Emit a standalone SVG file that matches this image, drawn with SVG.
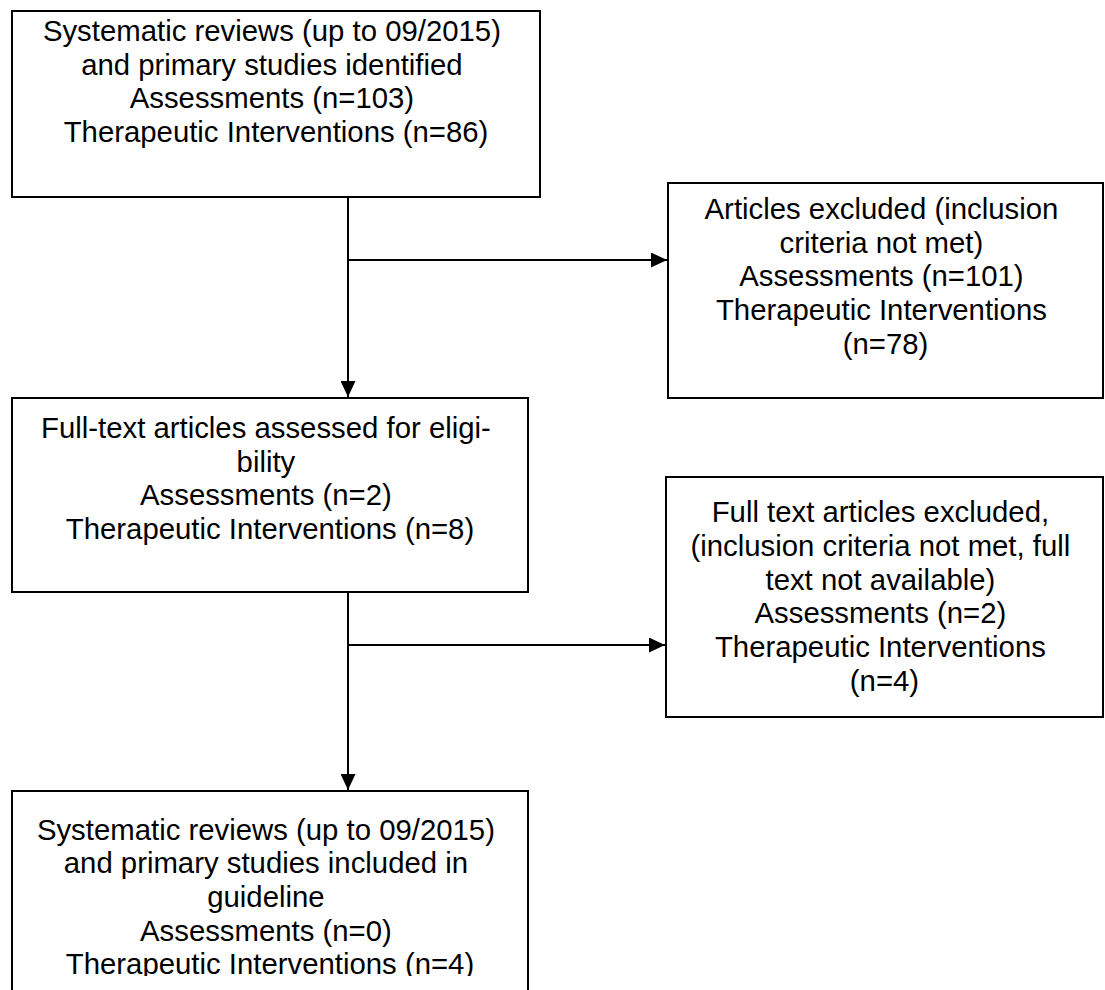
<svg xmlns="http://www.w3.org/2000/svg" width="1105" height="990" viewBox="0 0 1105 990">
  <defs>
    <style>
      .box { fill: #ffffff; stroke: #000000; stroke-width: 2; }
      .conn { fill: none; stroke: #000000; stroke-width: 2; }
      .lbl { font-family: "Liberation Sans", Arial, sans-serif; font-size: 29.33px; fill: #000000; text-anchor: middle; }
    </style>
    <marker id="arrow" markerUnits="userSpaceOnUse" markerWidth="16" markerHeight="15" refX="16" refY="7.5" orient="auto">
      <path d="M0,0 L16,7.5 L0,15 Z" fill="#000000"/>
    </marker>
    <clipPath id="clip3">
      <rect x="12" y="791" width="516" height="185"/>
    </clipPath>
  </defs>
  <rect width="1105" height="990" fill="#ffffff"/>

  <g id="connectors">
    <line class="conn" x1="348" y1="197" x2="348" y2="397" marker-end="url(#arrow)"/>
    <line class="conn" x1="348" y1="260" x2="667" y2="260" marker-end="url(#arrow)"/>
    <line class="conn" x1="348" y1="592" x2="348" y2="790" marker-end="url(#arrow)"/>
    <line class="conn" x1="348" y1="645" x2="665" y2="645" marker-end="url(#arrow)"/>
  </g>

  <g id="identified">
    <rect class="box" x="12" y="11" width="528" height="186"/>
    <text class="lbl">
      <tspan x="276" y="41">Systematic reviews (up to 09/2015)</tspan>
      <tspan x="276" y="74.7">and primary studies identified</tspan>
      <tspan x="276" y="108.4">Assessments (n=103)</tspan>
      <tspan x="276" y="142.1">Therapeutic Interventions (n=86)</tspan>
    </text>
  </g>

  <g id="excluded1">
    <rect class="box" x="668" y="183" width="435" height="215"/>
    <text class="lbl">
      <tspan x="885.5" y="219">Articles excluded (inclusion</tspan>
      <tspan x="885.5" y="252.7">criteria not met)</tspan>
      <tspan x="885.5" y="286.4">Assessments (n=101)</tspan>
      <tspan x="885.5" y="320.1">Therapeutic Interventions</tspan>
      <tspan x="885.5" y="353.8">(n=78)</tspan>
    </text>
  </g>

  <g id="fulltext">
    <rect class="box" x="12" y="398" width="516" height="194"/>
    <text class="lbl">
      <tspan x="270" y="438">Full-text articles assessed for eligi-</tspan>
      <tspan x="270" y="471.7">bility</tspan>
      <tspan x="270" y="505.4">Assessments (n=2)</tspan>
      <tspan x="270" y="539.1">Therapeutic Interventions (n=8)</tspan>
    </text>
  </g>

  <g id="excluded2">
    <rect class="box" x="666" y="477" width="437" height="240"/>
    <text class="lbl">
      <tspan x="884.5" y="522.2">Full text articles excluded,</tspan>
      <tspan x="884.5" y="555.9">(inclusion criteria not met, full</tspan>
      <tspan x="884.5" y="589.6">text not available)</tspan>
      <tspan x="884.5" y="623.3">Assessments (n=2)</tspan>
      <tspan x="884.5" y="657">Therapeutic Interventions</tspan>
      <tspan x="884.5" y="690.7">(n=4)</tspan>
    </text>
  </g>

  <g id="included">
    <rect class="box" x="12" y="791" width="516" height="210"/>
    <text class="lbl" clip-path="url(#clip3)">
      <tspan x="270" y="839.5">Systematic reviews (up to 09/2015)</tspan>
      <tspan x="270" y="873.2">and primary studies included in</tspan>
      <tspan x="270" y="906.9">guideline</tspan>
      <tspan x="270" y="940.6">Assessments (n=0)</tspan>
      <tspan x="270" y="974.3">Therapeutic Interventions (n=4)</tspan>
    </text>
  </g>
</svg>
